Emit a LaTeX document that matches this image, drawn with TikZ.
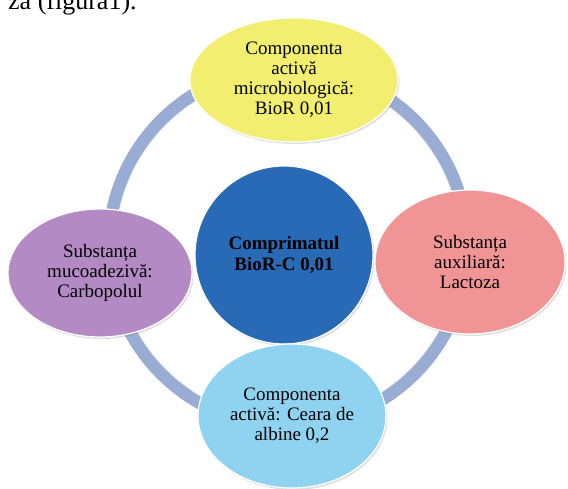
\documentclass[tikz,border=0pt]{standalone}
\usepackage{fontspec}
\setmainfont{Liberation Serif}
\usepackage{tikz}
\usetikzlibrary{shapes.geometric, shadows}
\usepackage{xcolor}

\definecolor{galben}{RGB}{242,238,112}
\definecolor{albastru}{RGB}{40,106,182}
\definecolor{roz}{RGB}{240,148,150}
\definecolor{mov}{RGB}{180,138,196}
\definecolor{bleu}{RGB}{143,211,240}
\definecolor{inel}{RGB}{152,172,212}

\begin{document}
\begin{tikzpicture}[x=1pt, y=-1pt,
    bula/.style={ellipse, draw=white, line width=1.2pt, align=center,
        font=\fontsize{19}{20}\selectfont,
        drop shadow={opacity=0.25, shadow xshift=1.5pt, shadow yshift=-2pt}}]
    % Cadru
    \useasboundingbox (0,0) rectangle (568,489);
    % Text taiat sus
    \node[anchor=base west, inner sep=0pt, font=\fontsize{26}{28}\selectfont] (fig) at (8,10) {za (figura1).};
    % Inelul
    \coordinate (centru) at (288,247);
    \draw[inel, line width=13pt] (centru) circle (179);
    \draw[white, opacity=0.7, line width=1.2pt] (centru) circle (172.5);
    % Cercul central
    \node[bula, circle, fill=albastru, minimum size=178pt,
        font=\fontsize{19}{21}\selectfont\bfseries] (comp) at (284,255) {Comprimatul\\BioR-C 0,01};
    % Elipsele
    \node[bula, fill=galben, minimum width=208pt, minimum height=124pt] (sus) at (294,80)
        {Componenta\\activă\\microbiologică:\\BioR 0,01};
    \node[bula, fill=mov, minimum width=184pt, minimum height=128pt] (stanga) at (100,273)
        {Substanța\\mucoadezivă:\\Carbopolul};
    \node[bula, fill=roz, minimum width=190pt, minimum height=144pt] (dreapta) at (470,262)
        {Substanța\\auxiliară:\\Lactoza};
    \node[bula, fill=bleu, minimum width=188pt, minimum height=144pt] (jos) at (292,416)
        {Componenta\\activă: Ceara de\\albine 0,2};
\end{tikzpicture}
\end{document}
